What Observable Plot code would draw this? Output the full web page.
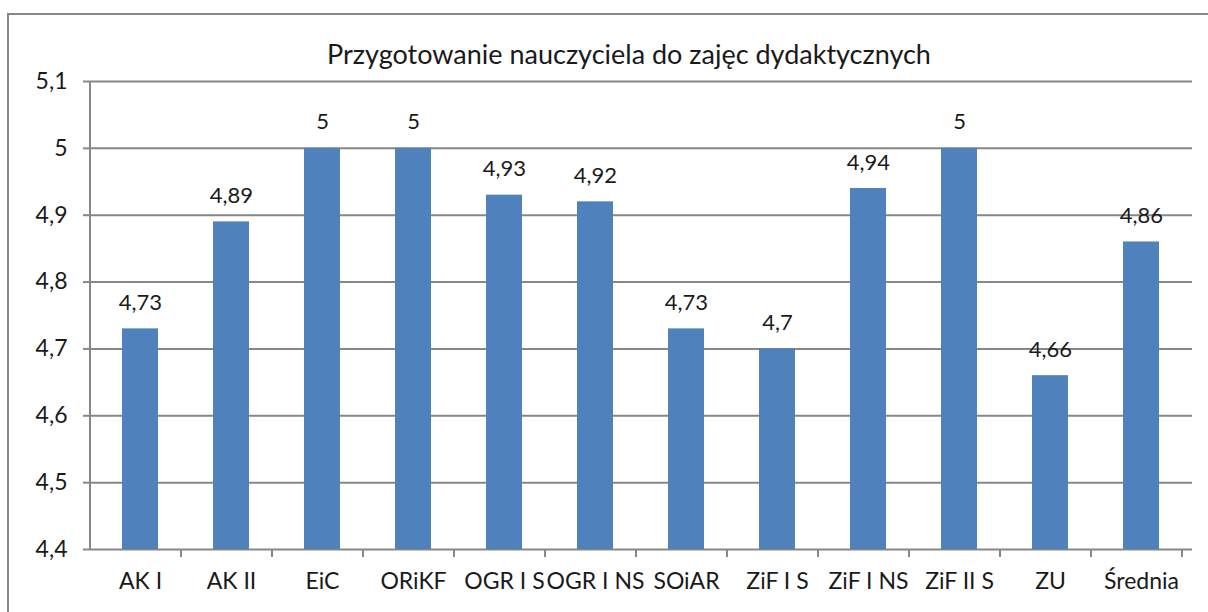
<!DOCTYPE html>
<html>
<head>
<meta charset="utf-8">
<script src="https://cdn.jsdelivr.net/npm/d3@7"></script>
<script src="https://cdn.jsdelivr.net/npm/@observablehq/plot@0.6"></script>
<style>
  html, body { margin: 0; padding: 0; background: #fff; }
  #wrap { position: relative; width: 1208px; height: 612px; overflow: hidden; font-family: Lato, "Open Sans", sans-serif; }
  #frame { position: absolute; left: 7px; top: 13px; width: 1300px; height: 700px; border: 2px solid #878787; box-sizing: border-box; }
  #title { position: absolute; left: 0; width: 1258px; top: 37px; text-align: center; font-size: 27px; color: #1a1a1a; }
  #chart { position: absolute; left: 0; top: 0; }
</style>
</head>
<body>
<div id="wrap">
  <div id="frame"></div>
  <div id="title">Przygotowanie nauczyciela do zajęc dydaktycznych</div>
  <div id="chart"></div>
</div>
<script>
const categories = ["AK I", "AK II", "EiC", "ORiKF", "OGR I S", "OGR I NS", "SOiAR", "ZiF I S", "ZiF I NS", "ZiF II S", "ZU", "Średnia"];
const values = [4.73, 4.89, 5, 5, 4.93, 4.92, 4.73, 4.7, 4.94, 5, 4.66, 4.86];
const yTicks = [4.4, 4.5, 4.6, 4.7, 4.8, 4.9, 5.0, 5.1];

const data = categories.map((c, i) => ({category: c, value: values[i]}));
const fmt = v => String(+v.toFixed(2)).replace(".", ",");
const baseY = yTicks[0];

const plot = Plot.plot({
  width: 1208,
  height: 612,
  marginLeft: 90,
  marginRight: 16,
  marginTop: 81,
  marginBottom: 63,
  style: {fontFamily: "Lato, 'Open Sans', sans-serif", fontSize: "23px", color: "#1a1a1a", background: "transparent"},
  x: {domain: categories, paddingInner: 0.6, paddingOuter: 0.3, label: null},
  y: {domain: [yTicks[0], yTicks[yTicks.length - 1]], label: null},
  marks: [
    Plot.ruleY(yTicks, {stroke: "#878787", strokeWidth: 2, strokeOpacity: 1}),
    Plot.barY(data, {x: "category", y1: baseY, y2: "value", fill: "#4F81BD"}),
    Plot.text(data, {x: "category", y: "value", text: d => fmt(d.value), dy: -26, fontSize: 22, fill: "#1a1a1a"}),
    Plot.axisY({ticks: yTicks, tickFormat: fmt, tickSize: 7, tickPadding: 16, stroke: "#878787", strokeWidth: 2, strokeOpacity: 1, fontSize: 23, label: null}),
    Plot.axisX({tickSize: 0, tickPadding: 23, fontSize: 23, label: null})
  ]
});

document.getElementById("chart").appendChild(plot);

// Axis line on the left and category boundary ticks along the bottom
const xs = plot.scale("x");
const ys = plot.scale("y");
const svg = d3.select(plot);
const step = xs.step;
const left = xs.range[0];
const yBottom = ys.apply(baseY);
const yTop = ys.apply(yTicks[yTicks.length - 1]);
const g = svg.append("g").attr("stroke", "#878787").attr("stroke-width", 2);
g.append("line").attr("x1", left).attr("x2", left).attr("y1", yTop).attr("y2", yBottom);
categories.forEach((c, i) => {
  const xb = left + step * (i + 1);
  g.append("line").attr("x1", xb).attr("x2", xb).attr("y1", yBottom).attr("y2", yBottom + 8);
});
</script>
</body>
</html>
